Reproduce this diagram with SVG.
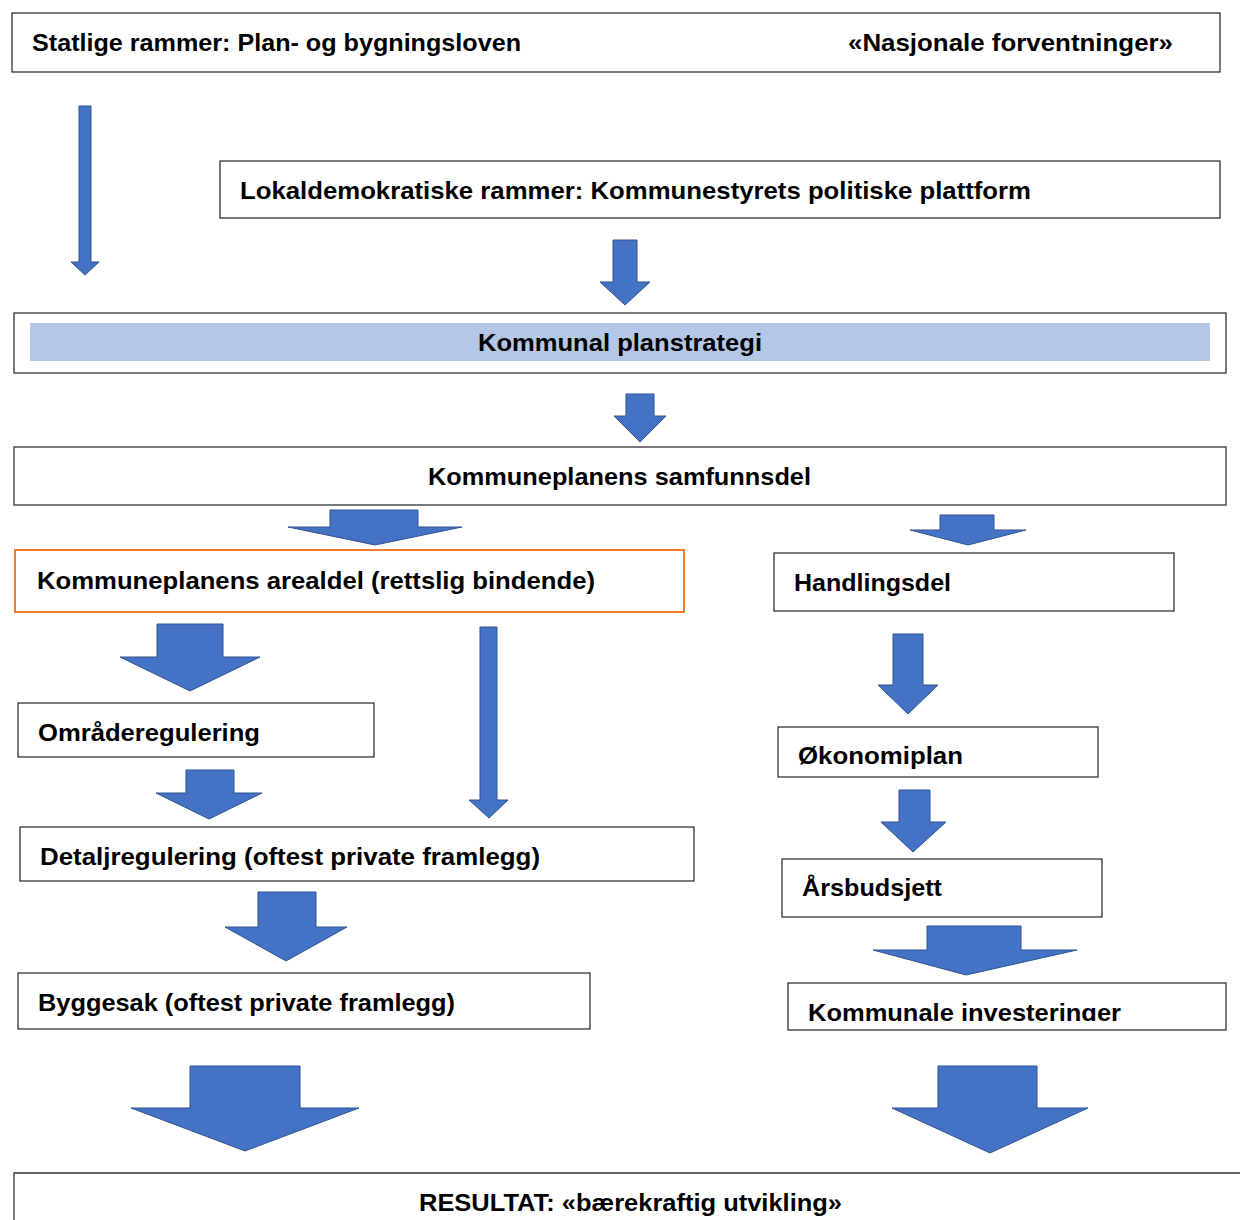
<svg xmlns="http://www.w3.org/2000/svg" width="1240" height="1220" viewBox="0 0 1240 1220">
<style>
.box{fill:#fff;stroke:#333;stroke-width:1.3}
.obox{fill:#fff;stroke:#ED7D31;stroke-width:2}
.arr{fill:#4472C4;stroke:#2F528F;stroke-width:1}
text{font-family:"Liberation Sans",Arial,sans-serif;font-weight:bold;font-size:24px;fill:#000}
</style>
<defs>
<clipPath id="clipOk"><rect x="778" y="727" width="320" height="42"/></clipPath>
<clipPath id="clipKi"><rect x="788" y="983" width="438" height="38"/></clipPath>
</defs>
<rect width="1240" height="1220" fill="#fff"/>
<g id="statlige">
<rect class="box" x="12" y="13" width="1208" height="59"/>
<text x="32" y="51" textLength="489" lengthAdjust="spacingAndGlyphs">Statlige rammer: Plan- og bygningsloven</text>
<text x="848" y="51" textLength="325" lengthAdjust="spacingAndGlyphs">«Nasjonale forventninger»</text>
</g>
<g id="lokaldemokratiske">
<rect class="box" x="220" y="161" width="1000" height="57"/>
<text x="240" y="199" textLength="791" lengthAdjust="spacingAndGlyphs">Lokaldemokratiske rammer: Kommunestyrets politiske plattform</text>
</g>
<g id="planstrategi">
<rect class="box" x="14" y="313" width="1212" height="60"/>
<rect x="30" y="323" width="1180" height="38" fill="#B4C7E7"/>
<text x="478" y="351" textLength="284" lengthAdjust="spacingAndGlyphs">Kommunal planstrategi</text>
</g>
<g id="samfunnsdel">
<rect class="box" x="14" y="447" width="1212" height="58"/>
<text x="428" y="485" textLength="383" lengthAdjust="spacingAndGlyphs">Kommuneplanens samfunnsdel</text>
</g>
<g id="arealdel">
<rect class="obox" x="15" y="550" width="669" height="62"/>
<text x="37" y="589" textLength="558" lengthAdjust="spacingAndGlyphs">Kommuneplanens arealdel (rettslig bindende)</text>
</g>
<g id="handlingsdel">
<rect class="box" x="774" y="553" width="400" height="58"/>
<text x="794" y="591" textLength="157" lengthAdjust="spacingAndGlyphs">Handlingsdel</text>
</g>
<g id="omraderegulering">
<rect class="box" x="18" y="703" width="356" height="54"/>
<text x="38" y="741" textLength="222" lengthAdjust="spacingAndGlyphs">Områderegulering</text>
</g>
<g id="okonomiplan">
<rect class="box" x="778" y="727" width="320" height="50"/>
<text x="798" y="764" textLength="165" lengthAdjust="spacingAndGlyphs" clip-path="url(#clipOk)">Økonomiplan</text>
</g>
<g id="detaljregulering">
<rect class="box" x="20" y="827" width="674" height="54"/>
<text x="40" y="865" textLength="500" lengthAdjust="spacingAndGlyphs">Detaljregulering (oftest private framlegg)</text>
</g>
<g id="arsbudsjett">
<rect class="box" x="782" y="859" width="320" height="58"/>
<text x="802" y="896" textLength="140" lengthAdjust="spacingAndGlyphs">Årsbudsjett</text>
</g>
<g id="byggesak">
<rect class="box" x="18" y="973" width="572" height="56"/>
<text x="38" y="1011" textLength="417" lengthAdjust="spacingAndGlyphs">Byggesak (oftest private framlegg)</text>
</g>
<g id="investeringer">
<rect class="box" x="788" y="983" width="438" height="47"/>
<text x="808" y="1021" textLength="313" lengthAdjust="spacingAndGlyphs" clip-path="url(#clipKi)">Kommunale investeringer</text>
</g>
<g id="resultat">
<path d="M14,1221 V1173 H1241" fill="#fff" stroke="#333" stroke-width="1.3"/>
<text x="419" y="1211" textLength="423" lengthAdjust="spacingAndGlyphs">RESULTAT: «bærekraftig utvikling»</text>
</g>
<g id="connectors">
<polygon class="arr" points="79,106 91,106 91,262 99,262 85,275 71,262 79,262"/>
<polygon class="arr" points="613,240 637,240 637,282 650,282 625,305 600,282 613,282"/>
<polygon class="arr" points="626,394 654,394 654,416 666,416 640,442 614,416 626,416"/>
<polygon class="arr" points="330,510 418,510 418,527 462,527 375,545 288,527 330,527"/>
<polygon class="arr" points="940,515 994,515 994,530 1026,530 968,545 910,530 940,530"/>
<polygon class="arr" points="157,624 223,624 223,657 260,657 190,691 120,657 157,657"/>
<polygon class="arr" points="480,627 497,627 497,800 508,800 489,818 469,800 480,800"/>
<polygon class="arr" points="186,770 234,770 234,793 262,793 209,819 156,793 186,793"/>
<polygon class="arr" points="258,892 316,892 316,927 347,927 286,961 225,927 258,927"/>
<polygon class="arr" points="190,1066 300,1066 300,1108 359,1108 245,1151 131,1108 190,1108"/>
<polygon class="arr" points="893,634 923,634 923,685 938,685 908,714 878,685 893,685"/>
<polygon class="arr" points="899,790 930,790 930,822 946,822 913,852 881,822 899,822"/>
<polygon class="arr" points="927,926 1021,926 1021,950 1077,950 966,975 873,950 927,950"/>
<polygon class="arr" points="938,1066 1037,1066 1037,1108 1088,1108 990,1153 892,1108 938,1108"/>
</g>
</svg>
